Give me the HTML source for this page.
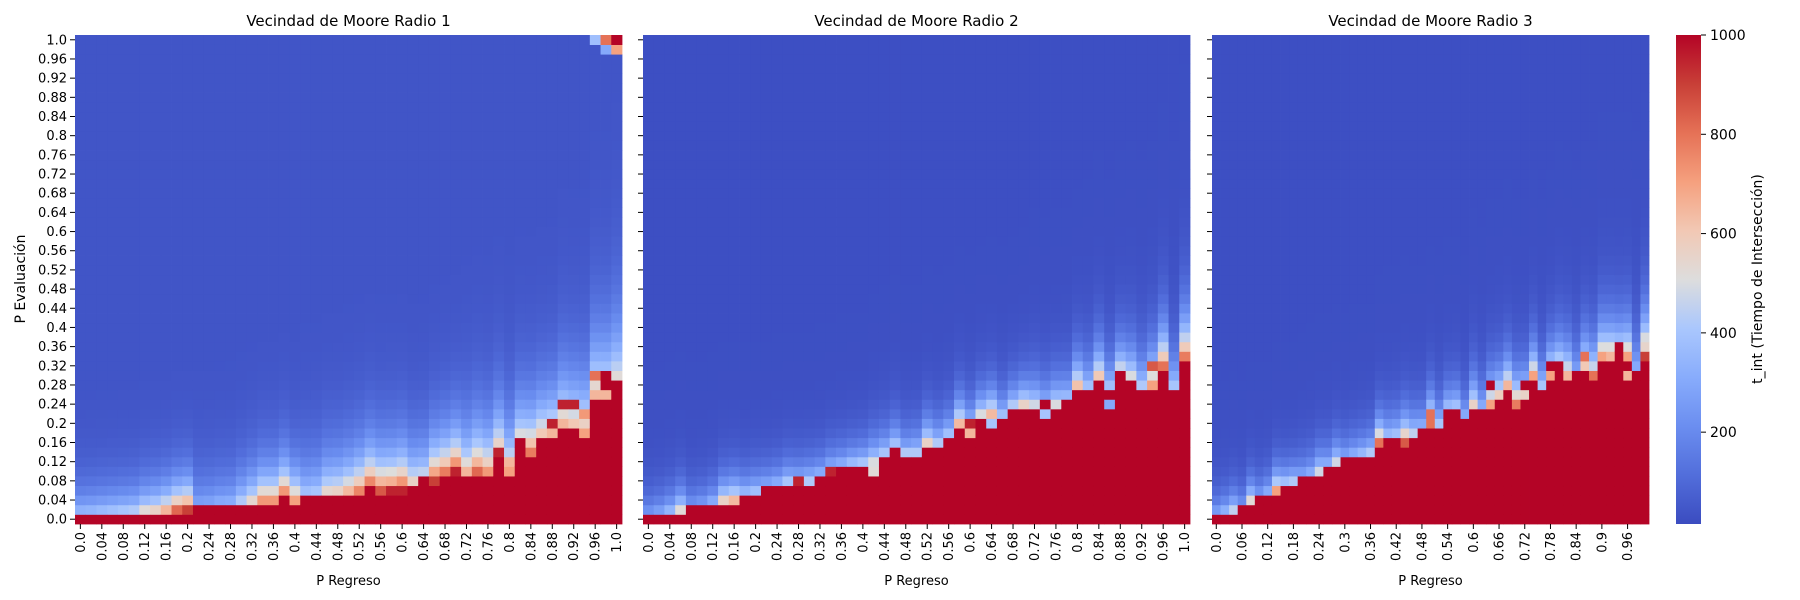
<!DOCTYPE html>
<html><head><meta charset="utf-8"><style>
html,body{margin:0;padding:0;background:#fff;}
svg{display:block;font-family:"DejaVu Sans","Liberation Sans",sans-serif;}
</style></head><body>
<svg id="chart" width="1800" height="600" viewBox="0 0 1800 600" xmlns="http://www.w3.org/2000/svg">
<defs>
<linearGradient id="cbgrad" x1="0" y1="1" x2="0" y2="0">
<stop offset="0" stop-color="rgb(59,76,192)"/><stop offset="0.1" stop-color="rgb(82,110,219)"/>
<stop offset="0.2" stop-color="rgb(107,142,240)"/><stop offset="0.3" stop-color="rgb(136,172,252)"/>
<stop offset="0.4" stop-color="rgb(170,199,253)"/><stop offset="0.5" stop-color="rgb(221,221,221)"/>
<stop offset="0.6" stop-color="rgb(242,200,180)"/><stop offset="0.7" stop-color="rgb(245,160,126)"/>
<stop offset="0.8" stop-color="rgb(229,113,86)"/><stop offset="0.9" stop-color="rgb(200,63,55)"/>
<stop offset="1" stop-color="rgb(180,4,38)"/>
</linearGradient>
</defs>
<g id="panels"></g>
<rect x="1676" y="35" width="25" height="489" fill="url(#cbgrad)"/>
<g id="cbticks"></g>
<text transform="translate(1762,279) rotate(-90)" text-anchor="middle" font-size="14">t_int (Tiempo de Intersección)</text>
<text transform="translate(25,279) rotate(-90)" text-anchor="middle" font-size="14">P Evaluación</text>
</svg>
<script>
const xLabels12 = ["0.0","0.04","0.08","0.12","0.16","0.2","0.24","0.28","0.32","0.36","0.4","0.44","0.48","0.52","0.56","0.6","0.64","0.68","0.72","0.76","0.8","0.84","0.88","0.92","0.96","1.0"];
const xLabels3 = ["0.0","0.06","0.12","0.18","0.24","0.3","0.36","0.42","0.48","0.54","0.6","0.66","0.72","0.78","0.84","0.9","0.96"];
const yLabels = ["0.0","0.04","0.08","0.12","0.16","0.2","0.24","0.28","0.32","0.36","0.4","0.44","0.48","0.52","0.56","0.6","0.64","0.68","0.72","0.76","0.8","0.84","0.88","0.92","0.96","1.0"];
const cbTicks = [200,400,600,800,1000];
const titles = ["Vecindad de Moore Radio 1","Vecindad de Moore Radio 2","Vecindad de Moore Radio 3"];

// red-region height (rows at t_int=1000 from bottom) per P Regreso column
const bnd1 = [1,1,1,1,1,1,1,1,1,1,1, 2,2,2,2,2,2,2,2,2,2, 3,3,3,3,3,3,3,3,3,3, 4,5,4, 5,5,5,5,5, 7,5,9,7,9,9,10,10,9,13,13,15];
const bnd2 = [1,1,1,1, 2,2,2,2,2, 3,3, 4,4,4,4,4, 5,5, 6,6,6,6, 7,8,7,7, 8,8, 9,10,10, 11,11,11, 12,12,12,12,12, 13,14,14, 15,14,15,15,14,14,16,14,17];
const bnd3 = [1,1,1, 2,2, 3,3,3, 4,4, 5,5,5, 6,6, 7,7,7,7, 8, 9,9, 8, 9, 10,10,10, 12,12, 11, 12,12,12, 13,14,12,13,15,14,15,17,15,16,15,15,17,17,19,17,16,17];
// value of the first cell above the red region
const edge1 = [330,340,360,380,400,420,520,560,650,820,900, 260,270,300,310,420,540,720,720,990,700, 380,400,540,560,640,760,990,850,870,950, 560,450,900,780,950,650,820,720,700,700,500,780,600,650,650,600,700,650,650,520];
const edge2 = [220,260,340,520, 200,230,300,560,640, 340,380, 260,300,400,380,420, 300,420, 300,360,400,500, 400,380,380,420, 560,420, 380,640,400, 500,640,380, 420,560,480,380,500, 350,620,380, 600,380,640,500,420,700,800,400,780];
const edge3 = [250,320,450, 200,520, 220,300,700, 380,420, 250,300,480, 300,480, 250,300,350,420, 800, 350,380, 850, 450, 300,800,400, 350,380, 300, 560,300,700, 580,650,780,560,700,400,700,400,650,250,850,650,700,700,350,700,300,900];
// halo spread (rows) per column
const spread1 = [2.5,2.5,2.5,2.5,2.5,2.5,2.5,2.5,2.5,2.5,2.5, 3,3,3,3,3,3,3,3,3,3, 3.5,3.5,3.5,3.5,3.5,3.5,3.5,3.5,3.5,3.5, 3.5,3.5,3.5,3.5,3.5,4,4,4,4,4, 4,4,4,4,4.5, 4.5,4.5,5,5,5.5];
const spread2 = [2,2,2,2,2,2,2,2,2,2,2,2,2,2,2,2,2,2,2,2,2, 2.2,2.2,2.2,2.2,2.2,2.2,2.2,2.2,2.2,2.2,2.2,2.2,2.2,2.2,2.2, 2.5,2.5,2.5,2.5,2.5,2.8,2.8,2.8,2.8,3,3,3,3.2,3.2,3.5];
const spread3 = [1.8,1.8,1.8,1.8,1.8,1.8,1.8,1.8,1.8,1.8,2,2,2,2,2,2,2,2,2,2, 2.2,2.2,2.2,2.2,2.2,2.2,2.2,2.2,2.2,2.2, 2.5,2.5,2.5,2.5,2.5,2.5,2.5,2.5,2.5,2.5, 2.8,2.8,2.8,2.8,2.8,3,3,3,3,3.2,3.2];
const floors = [40,25,25];
// individual outlier cells [col,row,value]
const spikes1 = [[50,50,1000],[49,50,800],[48,50,380],[50,49,700],[49,49,300],[19,2,1000],[27,3,1000],[29,3,950],[44,10,950],[49,14,1000],[49,15,1000],[48,15,800],[47,11,720],[45,12,950],[46,12,950],[44,9,650],[40,6,650],[39,7,950]];
const spikes2 = [[14,4,950],[17,5,950],[21,5,520],[23,7,1000],[24,7,420],[30,9,650],[30,10,950],[32,10,400],[37,11,400],[37,12,1000],[42,14,1000],[44,15,1000],[48,14,1000],[48,15,1000],[47,16,850],[48,16,800],[50,16,1000],[43,12,300]];
const spikes3 = [[25,10,800],[25,11,800],[27,10,1000],[33,12,1000],[34,13,1000],[36,14,1000],[32,14,1000],[39,16,1000],[40,16,1000],[42,15,1000],[43,15,1000],[44,15,800],[47,17,1000],[47,18,1000],[50,17,900],[46,17,650],[43,17,800],[48,15,650],[50,18,550],[50,19,500]];

const NS = "http://www.w3.org/2000/svg";
const VMIN = 15, VMAX = 1000, NC = 51, NR = 51;
const TOP = 35, BOT = 524;
const panelX = [[75,622],[643,1190],[1212,1649]];
const cmap = [[59,76,192],[82,110,219],[107,142,240],[136,172,252],[170,199,253],[221,221,221],[242,200,180],[245,160,126],[229,113,86],[200,63,55],[180,4,38]];
function color(v){
  let t = (v - VMIN) / (VMAX - VMIN); t = Math.max(0, Math.min(1, t));
  const p = t * 10, i = Math.min(9, Math.floor(p)), f = p - i;
  const a = cmap[i], b = cmap[i+1];
  return "rgb(" + [0,1,2].map(k => Math.round(a[k] + (b[k]-a[k])*f)).join(",") + ")";
}
function el(tag, attrs, parent){ const e = document.createElementNS(NS, tag); for (const k in attrs) e.setAttribute(k, attrs[k]); parent.appendChild(e); return e; }
const rowH = (BOT - TOP) / NR;
function yOf(r){ return BOT - (r + 1) * rowH; }
const panelsG = document.getElementById("panels");
const bnds = [bnd1,bnd2,bnd3], edges = [edge1,edge2,edge3], spreads = [spread1,spread2,spread3], spikes = [spikes1,spikes2,spikes3];

for (let p = 0; p < 3; p++){
  const [x0, x1] = panelX[p];
  const colW = (x1 - x0) / NC;
  const xOf = c => x0 + c * colW;
  const g = el("g", {}, panelsG);
  
  
  const grid = [];
  for (let c = 0; c < NC; c++){
    grid.push([]);
    for (let r = 0; r < NR; r++){
      const b = bnds[p][c];
      let v;
      if (r < b) v = 1000;
      else {
        const d = r - b, fl = floors[p];
        v = fl + (edges[p][c] - fl) * Math.exp(-d / spreads[p][c]);
      }
      grid[c].push(v);
    }
  }
  spikes[p].forEach(s => { grid[s[0]][s[1]] = s[2]; });
  for (let c = 0; c < NC; c++){
    for (let r = 0; r < NR; r++){
      const rc = el("rect", {x: xOf(c).toFixed(2), y: yOf(r).toFixed(2), width: (colW + 0.4).toFixed(2), height: (rowH + 0.4).toFixed(2), fill: color(grid[c][r])}, g);
      
      
    }
  }
  const t = el("text", {x: (x0 + x1) / 2, y: 26, "text-anchor": "middle", "font-size": 15}, g);
  
  
  t.textContent = titles[p];
  for (let i = 0; i < yLabels.length; i++){
    const r = i * 2, yc = yOf(r) + rowH / 2;
    const tk = el("line", {x1: x0 - 5, x2: x0, y1: yc, y2: yc, stroke: "#000", "stroke-width": 1}, g);
    
    
    if (p === 0){
      const lb = el("text", {x: x0 - 8, y: yc + 4.5, "text-anchor": "end", "font-size": 13}, g);
      
      
      lb.textContent = yLabels[i];
    }
  }
  const labs = p === 2 ? xLabels3 : xLabels12, step = p === 2 ? 3 : 2;
  for (let i = 0; i < labs.length; i++){
    const c = i * step, xc = xOf(c) + colW / 2;
    const tk = el("line", {x1: xc, x2: xc, y1: BOT, y2: BOT + 5, stroke: "#000", "stroke-width": 1}, g);
    
    
    const lb = el("text", {transform: "translate(" + (xc + 4.5) + "," + (BOT + 8) + ") rotate(-90)", "text-anchor": "end", "font-size": 13}, g);
    
    
    lb.textContent = labs[i];
  }
  const xl = el("text", {x: (x0 + x1) / 2, y: 585, "text-anchor": "middle", "font-size": 13}, g);
  
  
  xl.textContent = "P Regreso";
}
const cbg = document.getElementById("cbticks");
cbTicks.forEach(v => {
  const y = BOT - (v - VMIN) / (VMAX - VMIN) * (BOT - TOP);
  const tk = el("line", {x1: 1701, x2: 1706, y1: y, y2: y, stroke: "#000", "stroke-width": 1}, cbg);
  
  
  const lb = el("text", {x: 1710, y: y + 5, "font-size": 14}, cbg);
  
  
  lb.textContent = v;
});
</script>
</body></html>
